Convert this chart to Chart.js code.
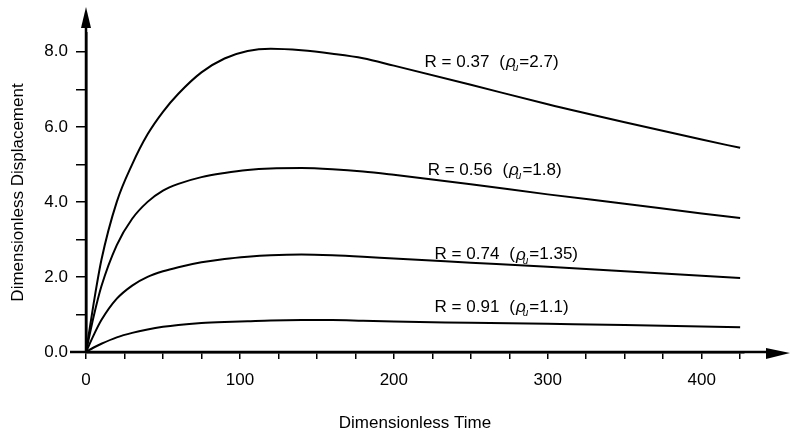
<!DOCTYPE html>
<html>
<head>
<meta charset="utf-8">
<script src="https://cdn.jsdelivr.net/npm/chart.js@4/dist/chart.umd.min.js"></script>
<style>
  html, body { margin: 0; padding: 0; background: #fff; }
  #wrap { width: 791px; height: 436px; }
</style>
</head>
<body>
<div id="wrap"><canvas id="chart"></canvas></div>
<script>
// dimensionless time samples (shared by all curves)
const xValues = [0, 5, 10, 20, 30, 40, 50, 60, 75, 90, 105, 120, 140, 160, 180, 200, 250, 300, 350, 400, 425];

// dimensionless displacement for each R
const dispR037 = [0, 1.3, 2.45, 4.0, 5.0, 5.8, 6.4, 6.88, 7.45, 7.82, 8.02, 8.08, 8.04, 7.95, 7.83, 7.63, 7.12, 6.6, 6.12, 5.66, 5.44];
const dispR056 = [0, 0.95, 1.75, 2.85, 3.55, 4.0, 4.3, 4.48, 4.66, 4.77, 4.85, 4.89, 4.9, 4.87, 4.81, 4.72, 4.47, 4.2, 3.95, 3.69, 3.57];
const dispR074 = [0, 0.45, 0.85, 1.42, 1.77, 2.0, 2.15, 2.26, 2.39, 2.48, 2.54, 2.58, 2.6, 2.58, 2.54, 2.49, 2.38, 2.27, 2.15, 2.03, 1.97];
const dispR091 = [0, 0.12, 0.22, 0.39, 0.51, 0.6, 0.67, 0.72, 0.77, 0.8, 0.82, 0.84, 0.85, 0.85, 0.83, 0.81, 0.78, 0.75, 0.72, 0.68, 0.66];

const rLabels = ['R = 0.37', 'R = 0.56', 'R = 0.74', 'R = 0.91'];
const rhoValues = ['2.7', '1.8', '1.35', '1.1'];

const xTicks = [0, 25, 50, 75, 100, 125, 150, 175, 200, 225, 250, 275, 300, 325, 350, 375, 400, 425];
const xTickLabels = ['0', '', '', '', '100', '', '', '', '200', '', '', '', '300', '', '', '', '400', ''];
const yTicks = [0, 1, 2, 3, 4, 5, 6, 7, 8];
const yTickLabels = ['0.0', '', '2.0', '', '4.0', '', '6.0', '', '8.0'];

const FONT = '"Liberation Sans", Arial, Helvetica, sans-serif';
Chart.defaults.font.family = FONT;
Chart.defaults.color = '#000';

function toPoints(arr) {
    return xValues.map((x, i) => ({ x: x, y: arr[i] }));
}

const series = [dispR037, dispR056, dispR074, dispR091];

// where each curve label starts (data units)
const labelAnchors = [[220, 7.73], [222, 4.85], [226.5, 2.59], [226.5, 1.2]];

const curveLabels = {
    id: 'curveLabels',
    afterDatasetsDraw(chart) {
        const ctx = chart.ctx;
        const xs = chart.scales.x, ys = chart.scales.y;
        ctx.save();
        ctx.fillStyle = '#000';
        ctx.textBaseline = 'middle';
        ctx.textAlign = 'left';
        labelAnchors.forEach((a, i) => {
            let px = xs.getPixelForValue(a[0]);
            const py = ys.getPixelForValue(a[1]);
            ctx.font = '17px ' + FONT;
            ctx.fillText(rLabels[i], px, py);
            px += ctx.measureText(rLabels[i]).width + 10;
            ctx.fillText('(', px, py);
            px += ctx.measureText('(').width + 1;
            ctx.font = 'italic 17px ' + FONT;
            ctx.fillText('\u03C1', px, py);
            px += ctx.measureText('\u03C1').width - 3;
            ctx.font = 'italic 10px ' + FONT;
            ctx.fillText('u', px, py + 6);
            px += ctx.measureText('u').width + 1;
            ctx.font = '17px ' + FONT;
            ctx.fillText('=' + rhoValues[i] + ')', px, py);
        });
        ctx.restore();
    }
};

const axisArrows = {
    id: 'axisArrows',
    afterDraw(chart) {
        const ctx = chart.ctx;
        const a = chart.chartArea;
        ctx.save();
        ctx.strokeStyle = '#000';
        ctx.fillStyle = '#000';
        ctx.lineWidth = 2.5;
        // x axis: extend left a bit and right to arrow
        ctx.beginPath();
        ctx.moveTo(70, a.bottom);
        ctx.lineTo(772, a.bottom);
        ctx.stroke();
        ctx.beginPath();
        ctx.moveTo(790, a.bottom + 1);
        ctx.lineTo(766, a.bottom - 4);
        ctx.lineTo(766, a.bottom + 7);
        ctx.closePath();
        ctx.fill();
        // y axis up to arrow
        ctx.beginPath();
        ctx.moveTo(a.left, a.bottom);
        ctx.lineTo(a.left, 24);
        ctx.stroke();
        ctx.beginPath();
        ctx.moveTo(a.left, 7);
        ctx.lineTo(a.left - 5, 28);
        ctx.lineTo(a.left + 5, 28);
        ctx.closePath();
        ctx.fill();
        ctx.restore();
    }
};

new Chart(document.getElementById('chart'), {
    type: 'line',
    data: {
        datasets: series.map((s, i) => ({
            label: rLabels[i],
            data: toPoints(s),
            borderColor: '#000',
            borderWidth: 2,
            pointRadius: 0,
            fill: false,
            cubicInterpolationMode: 'monotone'
        }))
    },
    options: {
        responsive: true,
        maintainAspectRatio: false,
        animation: false,
        layout: { padding: { left: 0, right: 47, top: 33, bottom: 0 } },
        plugins: {
            legend: { display: false },
            tooltip: { enabled: false }
        },
        scales: {
            x: {
                type: 'linear',
                min: 0,
                max: 427.5,
                afterBuildTicks: scale => { scale.ticks = xTicks.map(v => ({ value: v })); },
                afterFit: scale => { scale.height = 84; },
                ticks: {
                    autoSkip: false,
                    maxRotation: 0,
                    padding: 11,
                    color: '#000',
                    font: { size: 17 },
                    callback: (v, i) => xTickLabels[i]
                },
                grid: {
                    drawOnChartArea: false,
                    drawTicks: true,
                    tickLength: 7,
                    color: '#000',
                    lineWidth: 1.5
                },
                border: { display: true, color: '#000', width: 2.5 },
                title: {
                    display: true,
                    text: 'Dimensionless Time',
                    color: '#000',
                    font: { size: 17 },
                    padding: { top: 2, bottom: 2 }
                }
            },
            y: {
                min: 0,
                max: 8.5,
                afterBuildTicks: scale => { scale.ticks = yTicks.map(v => ({ value: v })); },
                afterFit: scale => { scale.width = 86; },
                ticks: {
                    autoSkip: false,
                    padding: 8,
                    color: '#000',
                    font: { size: 17 },
                    callback: (v, i) => yTickLabels[i]
                },
                grid: {
                    drawOnChartArea: false,
                    drawTicks: true,
                    tickLength: 10,
                    color: '#000',
                    lineWidth: 1.5
                },
                border: { display: true, color: '#000', width: 2.5 },
                title: {
                    display: true,
                    text: 'Dimensionless Displacement',
                    color: '#000',
                    font: { size: 17 },
                    padding: { top: 8, bottom: 8 }
                }
            }
        }
    },
    plugins: [curveLabels, axisArrows]
});
</script>
</body>
</html>
